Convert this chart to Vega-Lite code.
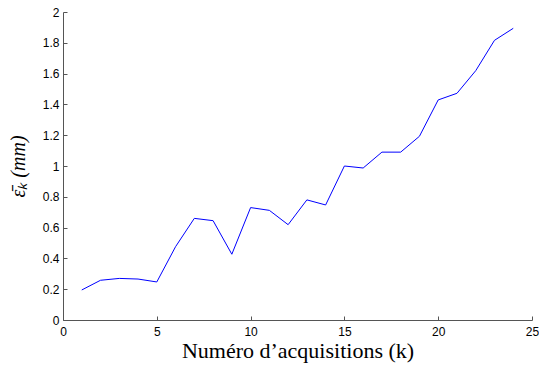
{
  "$schema": "https://vega.github.io/schema/vega-lite/v6.json",
  "width": 469,
  "height": 308,
  "autosize": {"type": "none"},
  "padding": {"left": 63, "top": 12, "right": 7, "bottom": 49},
  "background": "white",
  "config": {"view": {"stroke": null}},
  "data": {"values": [
    {"k": 1, "e": 0.195},
    {"k": 2, "e": 0.258},
    {"k": 3, "e": 0.27},
    {"k": 4, "e": 0.266},
    {"k": 5, "e": 0.247},
    {"k": 6, "e": 0.476},
    {"k": 7, "e": 0.66},
    {"k": 8, "e": 0.645},
    {"k": 9, "e": 0.427},
    {"k": 10, "e": 0.73},
    {"k": 11, "e": 0.712},
    {"k": 12, "e": 0.619},
    {"k": 13, "e": 0.78},
    {"k": 14, "e": 0.747},
    {"k": 15, "e": 1.0},
    {"k": 16, "e": 0.987},
    {"k": 17, "e": 1.09},
    {"k": 18, "e": 1.09},
    {"k": 19, "e": 1.193},
    {"k": 20, "e": 1.429},
    {"k": 21, "e": 1.472},
    {"k": 22, "e": 1.619},
    {"k": 23, "e": 1.816},
    {"k": 24, "e": 1.894}
  ]},
  "mark": {"type": "line", "color": "#0000ff", "strokeWidth": 1},
  "encoding": {
    "x": {
      "field": "k", "type": "quantitative",
      "scale": {"domain": [0, 25], "nice": false, "zero": false},
      "axis": {
        "values": [0, 5, 10, 15, 20, 25],
        "grid": false,
        "domainColor": "#555555",
        "domainWidth": 1,
        "tickColor": "#555555",
        "tickSize": -4,
        "labelPadding": 10,
        "labelFont": "Liberation Sans",
        "labelFontSize": 12,
        "labelColor": "#000000",
        "labelFlush": false,
        "title": "Numéro d’acquisitions (k)",
        "titleFont": "Liberation Serif",
        "titleFontSize": 22,
        "titleFontWeight": "normal",
        "titleColor": "#000000",
        "titlePadding": 3
      }
    },
    "y": {
      "field": "e", "type": "quantitative",
      "scale": {"domain": [0, 2], "nice": false, "zero": false},
      "axis": {
        "values": [0, 0.2, 0.4, 0.6, 0.8, 1, 1.2, 1.4, 1.6, 1.8, 2],
        "format": "~g",
        "grid": false,
        "domainColor": "#555555",
        "domainWidth": 1,
        "tickColor": "#555555",
        "tickSize": -4,
        "labelPadding": 8,
        "labelFont": "Liberation Sans",
        "labelFontSize": 12,
        "labelColor": "#000000",
        "labelFlush": false,
        "title": "ε̄ₖ  (mm)",
        "titleFont": "Liberation Serif",
        "titleFontSize": 20,
        "titleFontStyle": "italic",
        "titleFontWeight": "normal",
        "titleColor": "#000000",
        "titlePadding": 14
      }
    }
  }
}
